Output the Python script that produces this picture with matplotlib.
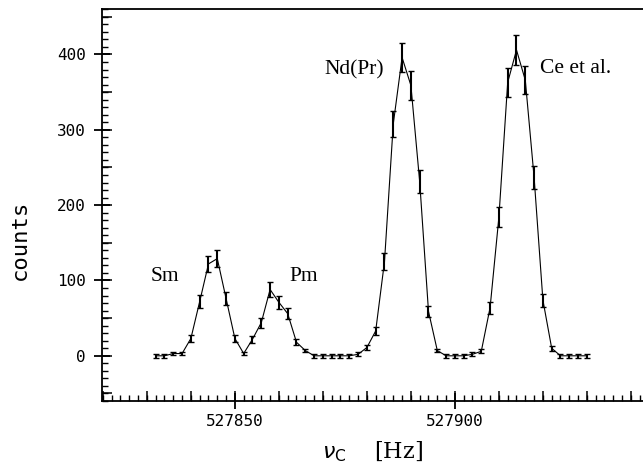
import matplotlib
matplotlib.use("Agg")
import matplotlib.pyplot as plt
from matplotlib.ticker import MultipleLocator, FixedLocator, NullFormatter

# ---- data ----
freq = [527832, 527834, 527836, 527838, 527840, 527842, 527844, 527846, 527848, 527850,
        527852, 527854, 527856, 527858, 527860, 527862, 527864, 527866, 527868, 527870,
        527872, 527874, 527876, 527878, 527880, 527882, 527884, 527886, 527888, 527890,
        527892, 527894, 527896, 527898, 527900, 527902, 527904, 527906, 527908, 527910,
        527912, 527914, 527916, 527918, 527920, 527922, 527924, 527926, 527928, 527930]
counts = [0, 0, 3, 3, 23, 72, 122, 129, 76, 23,
          3, 22, 44, 88, 71, 56, 18, 7, 0, 0,
          0, 0, 0, 2, 11, 33, 125, 308, 396, 359,
          231, 59, 7, 0, 0, 0, 2, 6, 64, 184,
          363, 406, 366, 237, 74, 10, 0, 0, 0, 0]
errors = [2.5, 2.5, 2.5, 2.5, 4.8, 8.5, 11.0, 11.4, 8.7, 4.8,
          2.5, 4.7, 6.6, 9.4, 8.4, 7.5, 4.2, 2.6, 2.5, 2.5,
          2.5, 2.5, 2.5, 2.5, 3.3, 5.7, 11.2, 17.5, 19.9, 18.9,
          15.2, 7.7, 2.6, 2.5, 2.5, 2.5, 2.5, 2.5, 8.0, 13.6,
          19.0, 20.1, 19.1, 15.4, 8.6, 3.2, 2.5, 2.5, 2.5, 2.5]

peak_labels = ["Sm", "Pm", "Nd(Pr)", "Ce et al."]
peak_label_pos = [(527830.9, 99), (527862.3, 99), (527870.3, 374), (527919.4, 376)]

x_major = [527850, 527900]
y_major = [0, 100, 200, 300, 400]

# ---- figure ----
W, H = 643, 467
fig = plt.figure(figsize=(W / 100, H / 100), dpi=100)
ax = fig.add_axes([102 / W, 66 / H, (W - 102) / W, (401 - 9.3) / H])

ax.errorbar(freq, counts, yerr=errors, color="black", linewidth=0.8,
            elinewidth=1.5, capsize=2.2, capthick=1.0, zorder=3)

ax.set_xlim(527819.8, 527942.75)
ax.set_ylim(-60, 460)

for s in ["left", "bottom", "top"]:
    ax.spines[s].set_linewidth(1.3)
ax.spines["right"].set_visible(False)

tick_font = dict(family="DejaVu Sans Mono", size=11.5)

ax.xaxis.set_major_locator(FixedLocator(x_major))
ax.xaxis.set_minor_locator(MultipleLocator(2))
ax.yaxis.set_major_locator(FixedLocator(y_major))
ax.yaxis.set_minor_locator(MultipleLocator(10))
ax.set_xticklabels([str(v) for v in x_major], **tick_font)
ax.set_yticklabels([str(v) for v in y_major], **tick_font)

ax.tick_params(axis="both", which="major", direction="inout", length=11, width=1.3)
ax.tick_params(axis="both", which="minor", direction="in", length=4.2, width=1.0)
ax.tick_params(axis="x", which="major", pad=4)
ax.tick_params(axis="y", which="major", pad=6)

# medium ticks (every 10 Hz on x, every 50 counts on y)
sx = ax.secondary_xaxis("bottom")
sx.xaxis.set_major_locator(MultipleLocator(10))
sx.xaxis.set_major_formatter(NullFormatter())
sx.tick_params(direction="in", length=7.5, width=1.1)
sx.spines["bottom"].set_visible(False)

sy = ax.secondary_yaxis("left")
sy.yaxis.set_major_locator(MultipleLocator(50))
sy.yaxis.set_major_formatter(NullFormatter())
sy.tick_params(direction="in", length=7.5, width=1.1)
sy.spines["left"].set_visible(False)

for txt, (px, py) in zip(peak_labels, peak_label_pos):
    ax.text(px, py, txt, family="Liberation Serif", fontsize=15.5,
            ha="left", va="baseline")

fig.text(20 / W, 1 - 240 / H, "counts", rotation=90, ha="center", va="center",
         family="DejaVu Sans Mono", fontsize=16)
fig.text(322 / W, 1 - 452 / H, r"$\nu_{\mathrm{C}}$    [Hz]", ha="left", va="center",
         family="DejaVu Serif", fontsize=16)

fig.savefig("out.png", dpi=100)
